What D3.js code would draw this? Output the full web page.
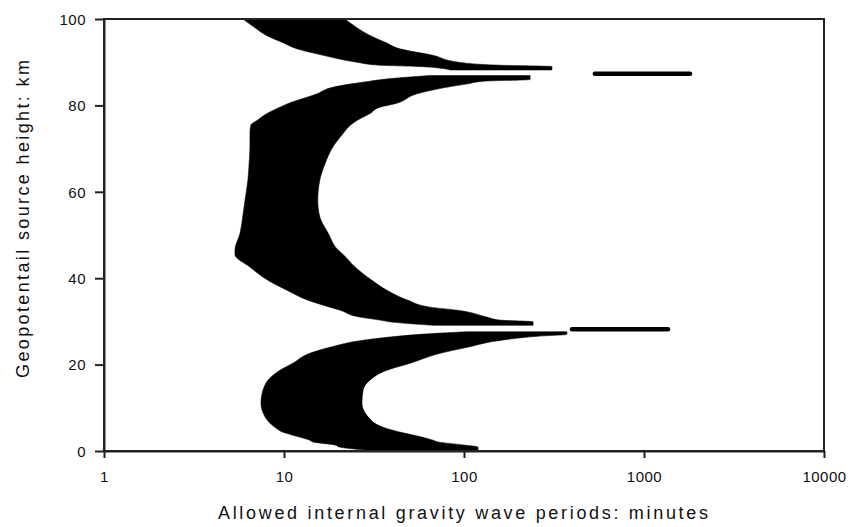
<!DOCTYPE html>
<html>
<head>
<meta charset="utf-8">
<script src="https://cdn.jsdelivr.net/npm/d3@7"></script>
<style>
  html, body { margin: 0; padding: 0; background: #fff; }
  svg { display: block; font-family: Arial, "Liberation Sans", sans-serif; }
</style>
</head>
<body>
<svg id="chart" width="852" height="527"></svg>
<script>
// ---- data (height in km, periods in minutes) ----
const xTicks = [1, 10, 100, 1000, 10000];
const yTicks = [0, 20, 40, 60, 80, 100];

const upperHeight = [100, 98, 96.2, 94.5, 93.1, 91.6, 90.0, 89.3, 89.0, 88.2];
const upperMin    = [5.9, 6.9, 8.0, 9.9, 11.8, 16.5, 25.4, 34, 57, 84];
const upperMax    = [21.8, 25.4, 30, 37, 44, 67, 93, 158, 308, 308];

const middleHeight = [86.9, 86.0, 85.6, 85.0, 84.2, 82.7, 80.4, 79.6, 78.1, 76.5, 75.5, 73.5, 70.4, 66.5, 62.7, 58.0, 54.2, 50.4, 46.5, 45.5, 42.6, 39.5, 37.2, 34.9, 33.3, 32.6, 31.0, 30.3, 29.9, 29.1];
const middleMin    = [64.7, 35, 30, 23.8, 18.7, 15.3, 10.5, 9.5, 8.04, 7.08, 6.55, 6.47, 6.47, 6.4, 6.3, 6.07, 5.9, 5.7, 5.34, 5.34, 6.47, 8.15, 10.4, 13.6, 18, 20.5, 26.4, 34.2, 38.8, 67.3];
const middleMax    = [233, 233, 128, 105, 80, 55, 41.4, 34.2, 30, 25.4, 23.5, 21.3, 18.7, 16.9, 15.8, 15.4, 15.8, 17.6, 20, 21.3, 24.8, 30.8, 37.3, 48.8, 64.7, 91.4, 134, 158, 242, 242];

const lowerHeight = [27.6, 27.0, 26.6, 25.7, 24.0, 22.6, 20.3, 18.7, 16.4, 14.1, 11.1, 7.9, 5.5, 4.2, 3.7, 2.5, 2.1, 1.4, 0.9, 0];
const lowerMin    = [104, 57, 44, 28.2, 18, 13.9, 11.2, 9.5, 8.15, 7.65, 7.45, 7.85, 8.9, 10.1, 11.1, 13.9, 14.5, 19.2, 20.4, 32.9];
const lowerMax    = [373, 373, 264, 165, 104, 73.6, 50.1, 37.3, 30, 27.5, 27.1, 29.3, 35.5, 45.8, 52, 67.3, 71.7, 98.7, 119.6, 119.6];

const stubHeight = [87.3, 28.2];
const stubMin    = [520, 388];
const stubMax    = [1848, 1395];

// ---- layout ----
const mLeft = 104, mRight = 824, mTop = 19, mBottom = 451;
const svg = d3.select("#chart");
const x = d3.scaleLog().domain([1, 10000]).range([mLeft, mRight]);
const y = d3.scaleLinear().domain([0, 100]).range([mBottom, mTop]);

const area = d3.area()
  .y(d => y(d.h))
  .x0(d => x(d.lo))
  .x1(d => x(d.hi))
  .curve(d3.curveMonotoneY);

function rows(h, lo, hi) { return h.map((v, i) => ({ h: v, lo: lo[i], hi: hi[i] })); }

const g = svg.append("g");
[[upperHeight, upperMin, upperMax], [middleHeight, middleMin, middleMax], [lowerHeight, lowerMin, lowerMax]]
  .forEach(([h, lo, hi]) => {
    g.append("path").attr("d", area(rows(h, lo, hi))).attr("fill", "#000").attr("stroke", "#000").attr("stroke-width", 0.6);
  });

g.selectAll("line.stub").data(stubHeight).enter().append("line")
  .attr("class", "stub")
  .attr("x1", (d, i) => x(stubMin[i]) + 2)
  .attr("x2", (d, i) => x(stubMax[i]) - 2)
  .attr("y1", d => y(d)).attr("y2", d => y(d))
  .attr("stroke", "#000").attr("stroke-width", 4.5).attr("stroke-linecap", "round");

// ---- frame ----
const axisColor = "#222";
svg.append("rect").attr("x", mLeft).attr("y", mTop).attr("width", mRight - mLeft).attr("height", mBottom - mTop)
  .attr("fill", "none").attr("stroke", axisColor).attr("stroke-width", 2);

// ---- axes ----
const xAxis = d3.axisBottom(x).tickValues(xTicks).tickFormat(d3.format("d")).tickSize(7).tickSizeOuter(0);
const xg = svg.append("g").attr("transform", `translate(0,${mBottom})`).call(xAxis);
xg.select(".domain").attr("stroke", axisColor).attr("stroke-width", 2);
xg.selectAll(".tick line").attr("stroke", axisColor).attr("stroke-width", 2);
xg.selectAll(".tick text").attr("font-size", 15).attr("fill", "#111").attr("dy", null).attr("y", 31)
  .attr("font-family", "Arial, 'Liberation Sans', sans-serif").attr("letter-spacing", 0.5);

const yAxis = d3.axisLeft(y).tickValues(yTicks).tickSize(9).tickSizeOuter(0);
const yg = svg.append("g").attr("transform", `translate(${mLeft},0)`).call(yAxis);
yg.select(".domain").attr("stroke", axisColor).attr("stroke-width", 2);
yg.selectAll(".tick line").attr("stroke", axisColor).attr("stroke-width", 2);
yg.selectAll(".tick text").attr("font-size", 15).attr("fill", "#111").attr("x", -18).attr("dy", "0.35em")
  .attr("font-family", "Arial, 'Liberation Sans', sans-serif").attr("letter-spacing", 0.5);

// ---- titles ----
svg.append("text")
  .attr("x", 463).attr("y", 519)
  .attr("text-anchor", "middle")
  .attr("font-size", 18).attr("fill", "#111")
  .attr("textLength", 490).attr("lengthAdjust", "spacing")
  .text("Allowed internal gravity wave periods: minutes");

svg.append("text")
  .attr("transform", "translate(29,219) rotate(-90)")
  .attr("text-anchor", "middle")
  .attr("font-size", 18).attr("fill", "#111")
  .attr("textLength", 318).attr("lengthAdjust", "spacing")
  .text("Geopotentail source height: km");
</script>
</body>
</html>
